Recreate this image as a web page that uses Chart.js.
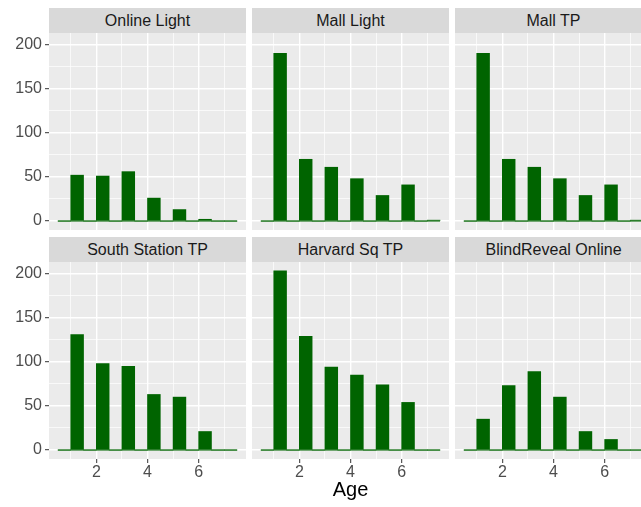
<!DOCTYPE html>
<html>
<head>
<meta charset="utf-8">
<script src="https://cdn.jsdelivr.net/npm/chart.js@4.4.1/dist/chart.umd.min.js"></script>
<style>
    body { margin: 0; width: 641px; height: 507px; overflow: hidden; position: relative; background: #fff; font-family: "Liberation Sans", Arial, sans-serif; }
    .strip { position: absolute; height: 25px; line-height: 25px; background: #d9d9d9; color: #1a1a1a; font-size: 16px; text-align: center; white-space: nowrap; }
    canvas { position: absolute; }
</style>
</head>
<body>
<script>
// histogram bins (age), binwidth 0.5
const binStart = [0.5, 1, 1.5, 2, 2.5, 3, 3.5, 4, 4.5, 5, 5.5, 6, 6.5, 7];
const binWidth = 0.5;

// counts per bin, one array per facet
const onlineLight       = [0, 52, 0, 51, 0, 56, 0, 26, 0, 13, 0, 2, 0, 0];
const mallLight         = [0, 190, 0, 70, 0, 61, 0, 48, 0, 29, 0, 41, 0, 1];
const mallTP            = [0, 190, 0, 70, 0, 61, 0, 48, 0, 29, 0, 41, 0, 1];
const southStationTP    = [0, 131, 0, 98, 0, 95, 0, 63, 0, 60, 0, 21, 0, 0];
const harvardSqTP       = [0, 203, 0, 129, 0, 94, 0, 85, 0, 74, 0, 54, 0, 0];
const blindRevealOnline = [0, 35, 0, 73, 0, 89, 0, 60, 0, 21, 0, 12, 0, 0];

const panelNames = ['Online Light', 'Mall Light', 'Mall TP', 'South Station TP', 'Harvard Sq TP', 'BlindReveal Online'];
const panelCounts = [onlineLight, mallLight, mallTP, southStationTP, harvardSqTP, blindRevealOnline];

const xTickLabels = [2, 4, 6];
const yTickLabels = [0, 50, 100, 150, 200];
const xTitle = 'Age';

// ggplot-ish expansion (5%) on shared scales
const yMax = Math.max(...panelCounts.flat());
const xLo = binStart[0];
const xHi = binStart[binStart.length - 1] + binWidth;
const xPad = (xHi - xLo) * 0.05;
const yPad = yMax * 0.05;

// layout
const colLeft = [49, 252, 455];
const panelW = 197;
const panelH = 197;
const stripTop = [8, 237];
const panelTop = [33, 262];
const yAxisW = 49;
const xAxisH = 48;

const panelBg = {
    id: 'panelBg',
    beforeDraw(chart) {
        const { ctx, chartArea: a } = chart;
        ctx.save();
        ctx.fillStyle = '#ebebeb';
        ctx.fillRect(a.left, a.top, a.width, a.height);
        ctx.restore();
    }
};

panelNames.forEach((name, i) => makePanel(name, panelCounts[i], i % 3, Math.floor(i / 3)));

function makePanel(name, counts, col, row) {
    const strip = document.createElement('div');
    strip.className = 'strip';
    strip.style.left = colLeft[col] + 'px';
    strip.style.top = stripTop[row] + 'px';
    strip.style.width = panelW + 'px';
    strip.textContent = name;
    document.body.appendChild(strip);

    const showY = col === 0;
    const showX = row === 1;
    const canvas = document.createElement('canvas');
    const w = panelW + (showY ? yAxisW : 0);
    const h = panelH + (showX ? xAxisH : 0);
    canvas.width = w;
    canvas.height = h;
    canvas.style.left = (colLeft[col] - (showY ? yAxisW : 0)) + 'px';
    canvas.style.top = panelTop[row] + 'px';
    document.body.appendChild(canvas);

    new Chart(canvas.getContext('2d'), {
        type: 'bar',
        data: {
            datasets: [{
                data: binStart.map((b, k) => ({ x: b + binWidth / 2, y: counts[k] })),
                backgroundColor: '#006400',
                borderWidth: 0,
                barPercentage: 1,
                categoryPercentage: 1
            }, {
                type: 'line',
                data: [{ x: xLo, y: 0 }, { x: xHi, y: 0 }],
                borderColor: '#006400',
                borderWidth: 1,
                pointRadius: 0
            }]
        },
        options: {
            responsive: false,
            animation: false,
            layout: { padding: 0 },
            plugins: { legend: { display: false }, tooltip: { enabled: false } },
            scales: {
                x: {
                    type: 'linear',
                    offset: false,
                    min: xLo - xPad,
                    max: xHi + xPad,
                    border: { display: false },
                    grid: {
                        offset: false,
                        color: '#ffffff',
                        lineWidth: c => xTickLabels.includes(c.tick.value) ? 1.4 : 0.7,
                        drawTicks: showX,
                        tickLength: 4,
                        tickColor: c => xTickLabels.includes(c.tick.value) ? '#333333' : 'rgba(0,0,0,0)',
                        tickWidth: 1
                    },
                    ticks: {
                        display: showX,
                        stepSize: 1,
                        includeBounds: false,
                        autoSkip: false,
                        maxRotation: 0,
                        padding: 0,
                        color: '#4d4d4d',
                        font: { family: 'Liberation Sans', size: 16 },
                        callback: v => xTickLabels.includes(v) ? String(v) : ''
                    },
                    title: {
                        display: showX && col === 1,
                        text: xTitle,
                        color: '#000000',
                        font: { family: 'Liberation Sans', size: 20 },
                        padding: { top: 0, bottom: 5 }
                    },
                    afterFit(scale) {
                        scale.height = showX ? xAxisH : 0;
                        scale.paddingLeft = 0;
                        scale.paddingRight = 0;
                    }
                },
                y: {
                    min: -yPad,
                    max: yMax + yPad,
                    border: { display: false },
                    grid: {
                        color: '#ffffff',
                        lineWidth: c => yTickLabels.includes(c.tick.value) ? 1.4 : 0.7,
                        drawTicks: showY,
                        tickLength: 4,
                        tickColor: c => yTickLabels.includes(c.tick.value) ? '#333333' : 'rgba(0,0,0,0)',
                        tickWidth: 1
                    },
                    ticks: {
                        display: showY,
                        stepSize: 25,
                        includeBounds: false,
                        autoSkip: false,
                        padding: 3,
                        color: '#4d4d4d',
                        font: { family: 'Liberation Sans', size: 16 },
                        callback: v => yTickLabels.includes(v) ? String(v) : ''
                    },
                    afterFit(scale) {
                        scale.width = showY ? yAxisW : 0;
                        scale.paddingTop = 0;
                        scale.paddingBottom = 0;
                    }
                }
            }
        },
        plugins: [panelBg]
    });
}
</script>
</body>
</html>
